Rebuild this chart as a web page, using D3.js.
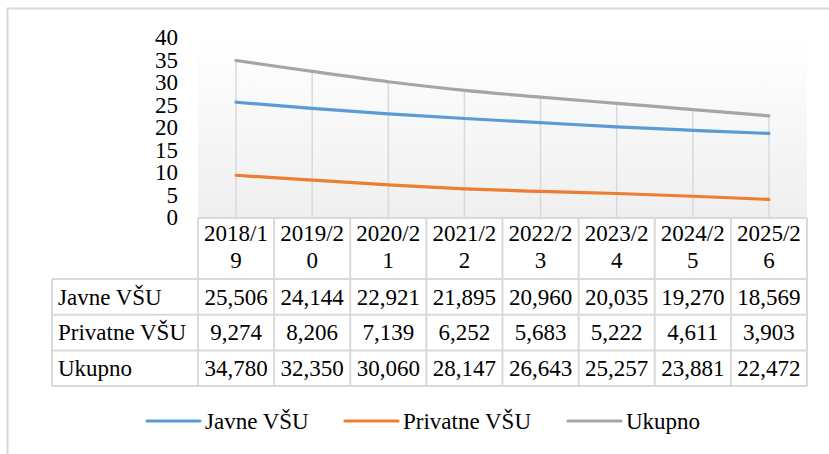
<!DOCTYPE html>
<html>
<head>
<meta charset="utf-8">
<script src="https://cdn.jsdelivr.net/npm/d3@7/dist/d3.min.js"></script>
<style>
  html, body { margin: 0; padding: 0; background: #fff; }
  svg { display: block; }
</style>
</head>
<body>
<svg id="chart" width="829" height="454"></svg>
<script>
// ---- data ----
const categories = ["2018/19", "2019/20", "2020/21", "2021/22", "2022/23", "2023/24", "2024/25", "2025/26"];
const seriesNames = ["Javne VŠU", "Privatne VŠU", "Ukupno"];
const javne = [25506, 24144, 22921, 21895, 20960, 20035, 19270, 18569];
const privatne = [9274, 8206, 7139, 6252, 5683, 5222, 4611, 3903];
const ukupno = [34780, 32350, 30060, 28147, 26643, 25257, 23881, 22472];
const yTicks = [0, 5, 10, 15, 20, 25, 30, 35, 40];
const colors = ["#5B9BD5", "#ED7D31", "#A5A5A5"];

const seriesValues = [javne, privatne, ukupno];

// ---- layout ----
const FONT = "'Liberation Serif', 'Times New Roman', Tinos, serif";
const svg = d3.select("#chart");
const fontSize = 23;
const plot = { left: 198, right: 807, top: 37, bottom: 217 };
const tableLeft = 52;
const headerBottom = 279;
const rowH = 35.7;
const gridColor = "#d9d9d9";

function txt(sel) {
  return sel.attr("font-family", FONT).style("font-family", FONT)
    .attr("font-size", fontSize).style("font-size", fontSize + "px").attr("fill", "#000");
}

// outer border
svg.append("rect")
  .attr("x", 7.5).attr("y", 8.5).attr("width", 840).attr("height", 470)
  .attr("fill", "none").attr("stroke", gridColor).attr("stroke-width", 2);

// gradient
const defs = svg.append("defs");
const grad = defs.append("linearGradient").attr("id", "bg")
  .attr("x1", 0).attr("y1", 0).attr("x2", 0).attr("y2", 1);
grad.append("stop").attr("offset", "0%").attr("stop-color", "#ffffff");
grad.append("stop").attr("offset", "100%").attr("stop-color", "#efefef");

const x = d3.scaleBand().domain(categories).range([plot.left, plot.right]);
const y = d3.scaleLinear().domain([0, 40]).range([plot.bottom, plot.top]);
const cx = c => x(c) + x.bandwidth() / 2;

svg.append("rect")
  .attr("x", plot.left).attr("y", plot.top)
  .attr("width", plot.right - plot.left).attr("height", plot.bottom - plot.top)
  .attr("fill", "url(#bg)");

// y axis labels
const yAxis = d3.axisLeft(y).tickValues(yTicks).tickSize(0).tickPadding(0);
const yg = svg.append("g").attr("transform", `translate(178,0)`).call(yAxis);
yg.attr("font-family", FONT).attr("font-size", fontSize);
yg.select(".domain").remove();
txt(yg.selectAll("text")).attr("dy", "0.34em");

// drop lines (from highest series to axis)
svg.append("g").selectAll("line").data(categories).join("line")
  .attr("x1", d => cx(d)).attr("x2", d => cx(d))
  .attr("y1", (d, i) => y(d3.max(seriesValues, s => s[i]) / 1000))
  .attr("y2", plot.bottom)
  .attr("stroke", gridColor).attr("stroke-width", 1.5);

// lines
const line = d3.line()
  .x((d, i) => cx(categories[i]))
  .y(d => y(d / 1000))
  .curve(d3.curveCatmullRom.alpha(0));

[2, 0, 1].forEach((idx) => {
  svg.append("path").datum(seriesValues[idx])
    .attr("d", line)
    .attr("fill", "none")
    .attr("stroke", colors[idx])
    .attr("stroke-width", 3.2)
    .attr("stroke-linecap", "round")
    .attr("stroke-linejoin", "round");
});

// ---- data table ----
const tg = svg.append("g");
const tableTop = plot.bottom + 1;
const tableBottom = headerBottom + rowH * 3;
function hline(x1, x2, yy) {
  tg.append("line").attr("x1", x1).attr("x2", x2).attr("y1", yy).attr("y2", yy)
    .attr("stroke", gridColor).attr("stroke-width", 2);
}
function vline(xx, y1, y2) {
  tg.append("line").attr("x1", xx).attr("x2", xx).attr("y1", y1).attr("y2", y2)
    .attr("stroke", gridColor).attr("stroke-width", 2);
}
hline(plot.left, plot.right, tableTop);
hline(tableLeft, plot.right, headerBottom);
for (let r = 1; r <= 3; r++) hline(tableLeft, plot.right, headerBottom + rowH * r);
vline(tableLeft, headerBottom, tableBottom);
categories.forEach(c => vline(x(c), tableTop, tableBottom));
vline(plot.right, tableTop, tableBottom);

// header labels (wrapped)
categories.forEach(c => {
  const t = txt(tg.append("text")).attr("text-anchor", "middle");
  t.append("tspan").attr("x", cx(c)).attr("y", 241).text(c.slice(0, 6));
  t.append("tspan").attr("x", cx(c)).attr("y", 268).text(c.slice(6));
});

// rows
const fmt = d3.format(",");
seriesNames.forEach((name, r) => {
  const ym = headerBottom + rowH * r + rowH / 2;
  txt(tg.append("text")).attr("x", tableLeft + 6).attr("y", ym).attr("dy", "0.34em").text(name);
  seriesValues[r].forEach((v, i) => {
    txt(tg.append("text")).attr("x", cx(categories[i])).attr("y", ym).attr("dy", "0.34em")
      .attr("text-anchor", "middle").text(fmt(v));
  });
});

// ---- legend ----
const legendY = 421;
const legendX = [147, 345, 568];
const lg = svg.append("g");
seriesNames.forEach((name, i) => {
  lg.append("line")
    .attr("x1", legendX[i]).attr("x2", legendX[i] + 53)
    .attr("y1", legendY).attr("y2", legendY)
    .attr("stroke", colors[i]).attr("stroke-width", 3.2).attr("stroke-linecap", "round");
  txt(lg.append("text")).attr("x", legendX[i] + 58).attr("y", legendY).attr("dy", "0.34em").text(name);
});
</script>
</body>
</html>
